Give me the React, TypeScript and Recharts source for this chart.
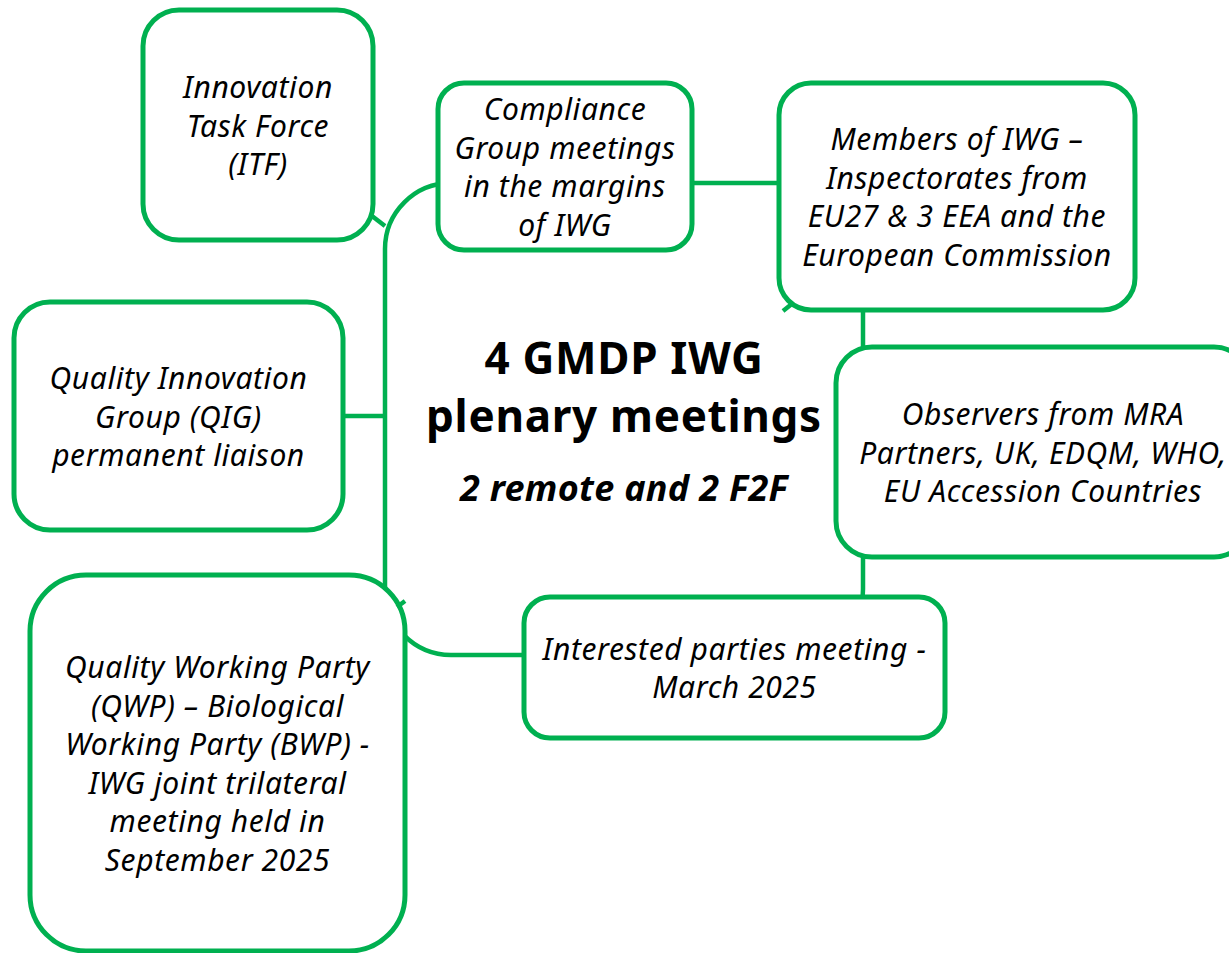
import { ComposedChart, ReferenceArea, ReferenceLine, Scatter, XAxis, YAxis } from 'recharts';

const GREEN = '#00B050';
const FONT = '"Noto Sans", "Open Sans", sans-serif';

// boxes of the diagram (data units = page pixels)
const boxLabels: string[][] = [
  ['Innovation', 'Task Force', '(ITF)'],
  ['Compliance', 'Group meetings', 'in the margins', 'of IWG'],
  ['Members of IWG –', 'Inspectorates from', 'EU27 & 3 EEA and the', 'European Commission'],
  ['Quality Innovation', 'Group (QIG)', 'permanent liaison'],
  ['Observers from MRA', 'Partners, UK, EDQM, WHO,', 'EU Accession Countries'],
  ['Interested parties meeting -', 'March 2025'],
  [
    'Quality Working Party',
    '(QWP) – Biological',
    'Working Party (BWP) -',
    'IWG joint trilateral',
    'meeting held in',
    'September 2025',
  ],
];
const boxLeft = [143, 438, 779, 14, 836, 524, 30];
const boxRight = [373, 692, 1135, 343, 1250, 945, 405];
const boxTop = [10, 83, 83, 302, 347, 597, 575];
const boxBottom = [240, 250, 310, 530, 557, 738, 951];
const boxCorner = [36, 26, 32, 36, 36, 26, 56];

// central hub
const hubBounds = { x1: 385, x2: 863, y1: 183, y2: 655 };
const hubTitle = ['4 GMDP IWG', 'plenary meetings'];
const hubSubtitle = '2 remote and 2 F2F';

// connector stubs
const connectors = [
  [{ x: 372, y: 216 }, { x: 385, y: 226 }],
  [{ x: 343, y: 416 }, { x: 385, y: 416 }],
  [{ x: 783, y: 311 }, { x: 793, y: 303 }],
  [{ x: 397, y: 607 }, { x: 405, y: 601 }],
];

const anchors = boxLeft.map((l, i) => ({ x: (l + boxRight[i]) / 2, y: (boxTop[i] + boxBottom[i]) / 2 }));

const boxShape = (lines: string[], r: number) => (p: any) => {
  const cx = p.x + p.width / 2;
  const cy = p.y + p.height / 2;
  const lh = 38.5;
  const y0 = cy - ((lines.length - 1) * lh) / 2;
  return (
    <g>
      <rect x={p.x} y={p.y} width={p.width} height={p.height} rx={r} ry={r} fill="#fff" stroke={GREEN} strokeWidth={5} />
      {lines.map((t, i) => (
        <text
          key={i}
          x={cx}
          y={y0 + i * lh}
          textAnchor="middle"
          dominantBaseline="central"
          fontStyle="italic"
          fontSize={30}
          letterSpacing={0.6}
          fontFamily={FONT}
          fill="#000"
        >
          {t}
        </text>
      ))}
    </g>
  );
};

const hubShape = (p: any) => {
  const cx = p.x + p.width / 2;
  const cy = p.y + p.height / 2;
  return (
    <g>
      <rect x={p.x} y={p.y} width={p.width} height={p.height} rx={66} ry={66} fill="none" stroke={GREEN} strokeWidth={4.5} />
      {hubTitle.map((t, i) => (
        <text
          key={i}
          x={cx}
          y={cy - 62 + i * 58}
          textAnchor="middle"
          dominantBaseline="central"
          fontWeight="bold"
          fontSize={44}
          letterSpacing={0.7}
          fontFamily={FONT}
          fill="#000"
        >
          {t}
        </text>
      ))}
      <text
        x={cx}
        y={cy + 68}
        textAnchor="middle"
        dominantBaseline="central"
        fontWeight="bold"
        fontStyle="italic"
        fontSize={36}
        letterSpacing={0.3}
        fontFamily={FONT}
        fill="#000"
      >
        {hubSubtitle}
      </text>
    </g>
  );
};

export default function App() {
  return (
    <div style={{ width: 1229, height: 953, overflow: 'hidden', background: '#fff' }}>
      <style>{'body{margin:0}'}</style>
      <ComposedChart width={1229} height={953} margin={{ top: 0, right: 0, bottom: 0, left: 0 }}>
        <XAxis type="number" dataKey="x" domain={[0, 1229]} hide />
        <YAxis type="number" dataKey="y" domain={[0, 953]} reversed hide />
        <Scatter data={anchors} isAnimationActive={false} shape={() => <g />} />
        <ReferenceArea {...hubBounds} ifOverflow="visible" shape={hubShape} />
        {connectors.map((seg, i) => (
          <ReferenceLine key={i} segment={seg} stroke={GREEN} strokeWidth={4.5} ifOverflow="visible" />
        ))}
        {boxLabels.map((lines, i) => (
          <ReferenceArea
            key={i}
            x1={boxLeft[i]}
            x2={boxRight[i]}
            y1={boxTop[i]}
            y2={boxBottom[i]}
            ifOverflow="visible"
            shape={boxShape(lines, boxCorner[i])}
          />
        ))}
      </ComposedChart>
    </div>
  );
}
